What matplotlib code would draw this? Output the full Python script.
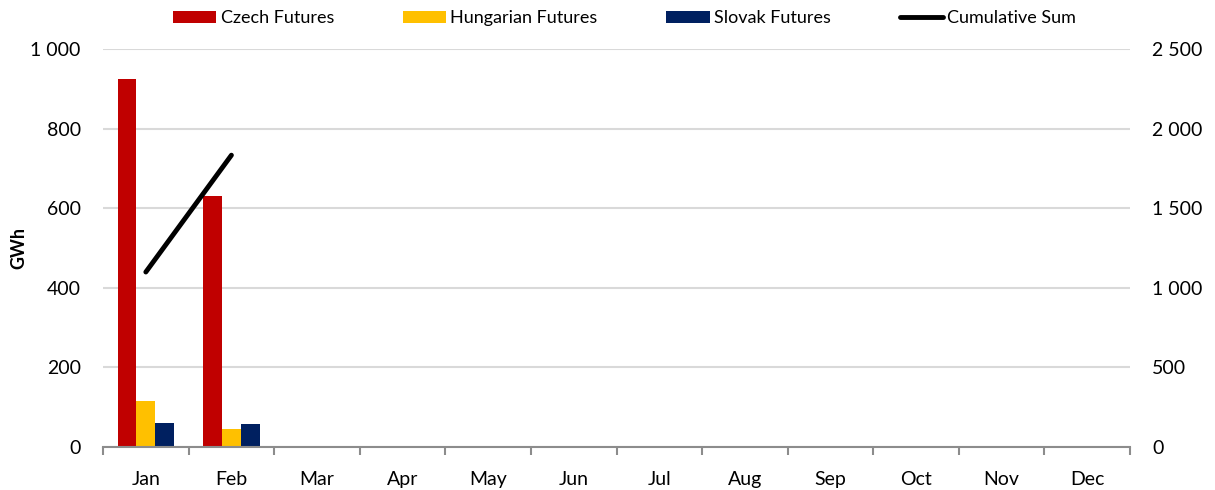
import matplotlib
matplotlib.use("Agg")
import matplotlib.pyplot as plt
import numpy as np
from matplotlib.ticker import FuncFormatter

months = ["Jan", "Feb", "Mar", "Apr", "May", "Jun",
          "Jul", "Aug", "Sep", "Oct", "Nov", "Dec"]
czech = [924, 630]
hungarian = [115, 45]
slovak = [60, 58]
cumulative = [1099, 1833]

plt.rcParams['font.family'] = ['Lato', 'DejaVu Sans']

def space_thousands(v, pos):
    return "{:,.0f}".format(v).replace(",", " ")

fig = plt.figure(figsize=(12.15, 4.9), dpi=100)
ax = fig.add_axes([0.0848, 0.0878, 0.8453, 0.8122])
ax2 = ax.twinx()

w = 0.22
x = np.arange(len(czech))
ax.bar(x - w, czech, w, color="#C00000", label="Czech Futures", zorder=3)
ax.bar(x, hungarian, w, color="#FFC000", label="Hungarian Futures", zorder=3)
ax.bar(x + w, slovak, w, color="#002060", label="Slovak Futures", zorder=3)
ax2.plot(x, cumulative, color="black", lw=3.5, solid_capstyle="round",
         label="Cumulative Sum")

ax.set_xlim(-0.5, len(months) - 0.5)
ax.set_ylim(0, 1000)
ax2.set_ylim(0, 2500)
ax.set_yticks(np.arange(0, 1001, 200))
ax2.set_yticks(np.arange(0, 2501, 500))
ax.yaxis.set_major_formatter(FuncFormatter(space_thousands))
ax2.yaxis.set_major_formatter(FuncFormatter(space_thousands))

ax.set_xticks(np.arange(len(months)))
ax.set_xticklabels(months)
ax.set_xticks(np.arange(-0.5, len(months)), minor=True)
ax.tick_params(axis="x", which="major", length=0, pad=17, labelsize=14)
ax.tick_params(axis="x", which="minor", length=6, color="#8C8C8C", width=1.5)
ax.tick_params(axis="y", length=0, pad=16, labelsize=14)
ax2.tick_params(axis="y", length=0, pad=16, labelsize=14)

ax.grid(axis="y", color="#D9D9D9", lw=1.5, zorder=0)
for a in (ax, ax2):
    for s in ("top", "left", "right"):
        a.spines[s].set_visible(False)
ax.spines["bottom"].set_color("#8C8C8C")
ax.spines["bottom"].set_linewidth(1.5)
ax.spines["bottom"].set_zorder(4)
ax2.spines["bottom"].set_visible(False)

ax.set_ylabel("GWh", fontsize=13, fontweight="bold", labelpad=2)

h1, l1 = ax.get_legend_handles_labels()
h2, l2 = ax2.get_legend_handles_labels()
fig.legend(h1 + h2, l1 + l2, loc="upper center", ncol=4, frameon=False,
           bbox_to_anchor=(0.514, 1.013), fontsize=13, columnspacing=3.8,
           handlelength=2.4, handleheight=0.65, handletextpad=0.25)

fig.savefig("out.png", dpi=100)
